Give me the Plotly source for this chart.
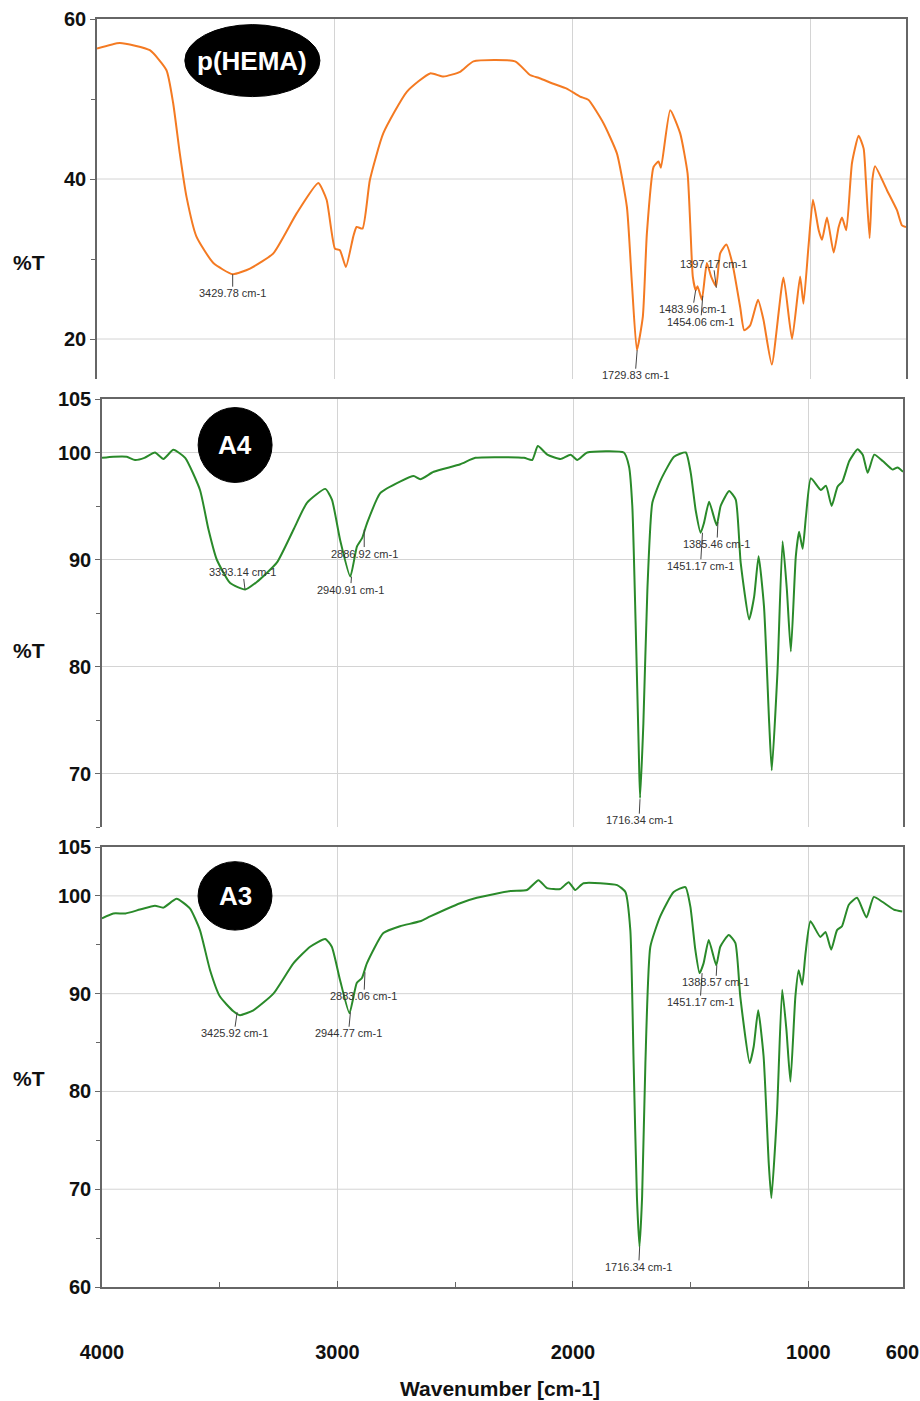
import plotly.graph_objects as go

# ---------------- data ----------------
phema_wn = [4000, 3904, 3778, 3708, 3680, 3652, 3624, 3582, 3511, 3430, 3357, 3259, 3161, 3070,
            3035, 3000, 2979, 2954, 2923, 2909, 2884, 2853, 2797, 2698, 2600, 2544, 2474, 2418,
            2243, 2180, 2140, 2082, 2026, 1970, 1935, 1872, 1815, 1773, 1752, 1731, 1706, 1689,
            1661, 1640, 1630, 1591, 1549, 1518, 1507, 1496, 1484, 1476, 1458, 1437, 1419, 1398,
            1381, 1355, 1330, 1297, 1280, 1255, 1222, 1199, 1164, 1115, 1079, 1045, 1031, 1010,
            991, 967, 953, 932, 904, 883, 869, 851, 827, 799, 778, 769, 753, 741, 730, 680,
            638, 617, 600]
phema_t = [56.3, 57.0, 56.1, 53.6, 49.5, 43.2, 37.8, 32.8, 29.5, 28.1, 28.8, 30.7, 35.7, 39.5,
           37.4, 31.3, 31.1, 29.0, 32.8, 34.0, 33.8, 39.9, 45.7, 50.9, 53.2, 52.8, 53.4, 54.7,
           54.7, 53.0, 52.6, 51.9, 51.3, 50.3, 49.9, 47.0, 43.2, 36.5, 27.0, 18.6, 22.8, 33.2,
           41.5, 42.2, 41.4, 48.6, 45.7, 40.7, 34.5, 27.8, 26.1, 26.6, 24.9, 29.5, 27.8, 26.6,
           30.7, 31.8, 29.5, 24.0, 21.1, 21.7, 24.9, 22.4, 16.8, 27.7, 20.0, 27.8, 24.4, 31.5,
           37.4, 33.6, 32.4, 35.2, 30.8, 34.0, 35.2, 33.6, 42.0, 45.4, 43.8, 40.0, 32.6, 40.0,
           41.6, 38.6, 36.1, 34.2, 34.0]

a4_wn = [4000, 3952, 3895, 3860, 3820, 3775, 3739, 3697, 3647, 3584, 3548, 3513, 3456, 3392,
         3343, 3258, 3187, 3130, 3052, 3024, 2989, 2946, 2918, 2896, 2875, 2819, 2733, 2677,
         2649, 2592, 2479, 2415, 2209, 2174, 2150, 2110, 2054, 2011, 1983, 1940, 1785, 1763,
         1749, 1735, 1721, 1716, 1702, 1685, 1664, 1629, 1572, 1522, 1501, 1480, 1459, 1445,
         1423, 1391, 1374, 1338, 1310, 1289, 1253, 1232, 1213, 1190, 1168, 1157, 1133, 1111,
         1093, 1076, 1055, 1041, 1026, 1012, 991, 949, 927, 903, 878, 857, 828, 793, 771,
         750, 722, 686, 644, 623, 600]
a4_t = [99.5, 99.6, 99.6, 99.3, 99.5, 100.0, 99.4, 100.25, 99.5, 96.5, 92.8, 90.0, 87.8, 87.2,
        87.9, 89.7, 92.8, 95.3, 96.6, 95.6, 91.8, 88.4, 91.2, 92.0, 93.4, 96.2, 97.3, 97.8,
        97.5, 98.2, 98.9, 99.5, 99.5, 99.3, 100.6, 99.8, 99.4, 99.8, 99.3, 100.0, 100.0, 98.7,
        95.0, 84.1, 71.6, 67.7, 74.7, 87.2, 95.3, 97.4, 99.6, 100.0, 98.1, 94.6, 92.5, 93.4,
        95.4, 93.2, 95.0, 96.4, 95.6, 89.7, 84.4, 86.5, 90.3, 85.6, 74.7, 70.3, 79.4, 91.7,
        87.2, 81.4, 90.3, 92.6, 91.0, 94.0, 97.6, 96.5, 96.9, 95.0, 96.8, 97.3, 99.2, 100.3, 99.8,
        98.1, 99.8, 99.2, 98.4, 98.6, 98.2]

a3_wn = [4000, 3952, 3900, 3839, 3775, 3739, 3683, 3626, 3584, 3541, 3499, 3442, 3414, 3357,
         3272, 3187, 3116, 3052, 3024, 2989, 2949, 2918, 2896, 2875, 2805, 2734, 2649, 2606,
         2479, 2408, 2266, 2195, 2146, 2110, 2054, 2018, 1990, 1955, 1812, 1777, 1756, 1742,
         1728, 1717, 1706, 1692, 1671, 1629, 1572, 1522, 1501, 1480, 1462, 1445, 1423, 1391,
         1374, 1338, 1310, 1289, 1249, 1232, 1213, 1190, 1168, 1157, 1133, 1111, 1093, 1076,
         1055, 1041, 1026, 1012, 991, 949, 927, 903, 878, 857, 828, 793, 753, 722, 686, 637, 600]
a3_t = [97.7, 98.2, 98.2, 98.6, 99.0, 98.8, 99.7, 98.7, 96.5, 92.4, 89.7, 88.2, 87.8, 88.3,
        90.0, 93.1, 94.8, 95.6, 94.8, 91.4, 88.0, 91.1, 91.6, 93.1, 96.2, 96.9, 97.4, 97.9,
        99.25, 99.8, 100.5, 100.6, 101.6, 100.8, 100.7, 101.4, 100.6, 101.3, 101.1, 100.4, 96.5, 82.9,
        69.2, 64.1, 69.2, 82.9, 94.8, 97.9, 100.4, 100.9, 98.9, 94.5, 92.1, 93.1, 95.5, 92.9,
        94.8, 96.0, 95.2, 89.7, 82.9, 84.6, 88.3, 83.6, 72.6, 69.1, 77.8, 90.4, 86.3, 81.0,
        89.7, 92.4, 90.9, 94.1, 97.4, 95.8, 96.3, 94.5, 96.5, 96.9, 99.1, 99.8, 97.8, 99.9,
        99.4, 98.6, 98.4]

# peak labels: wavenumber, %T at the marker, label offsets (px)
phema_pk_wn = [3429.78, 1729.83, 1483.96, 1454.06, 1397.17]
phema_pk_t = [28.1, 18.6, 26.1, 25.4, 26.4]
phema_pk_dx = [0, -2, -3, -2, -3]
phema_pk_dy = [19, 25, 19, 26, -24]

a4_pk_wn = [3393.14, 2940.91, 2886.92, 1716.34, 1451.17, 1385.46]
a4_pk_t = [87.2, 88.4, 92.8, 67.6, 92.5, 93.5]
a4_pk_dx = [-2, -1, 0, -1, -2, -1]
a4_pk_dy = [-17, 13, 24, 21, 33, 22]

a3_pk_wn = [3425.92, 2944.77, 2883.06, 1716.34, 1451.17, 1388.57]
a3_pk_t = [88.1, 88.1, 92.2, 64.1, 92.1, 92.9]
a3_pk_dx = [-3, -2, -1, -1, -2, -1]
a3_pk_dy = [21, 21, 24, 20, 29, 17]

# ---------------- figure ----------------
W, H = 920, 1401
fig = go.Figure()

ORANGE = "#F47A22"
GREEN = "#2A8A2A"
FONT = "Liberation Sans, Arial, sans-serif"

line_kw = dict(width=2, shape="spline", smoothing=0.5)
fig.add_trace(go.Scatter(x=phema_wn, y=phema_t, mode="lines", line=dict(color=ORANGE, **line_kw),
                         xaxis="x", yaxis="y", showlegend=False))
fig.add_trace(go.Scatter(x=a4_wn, y=a4_t, mode="lines", line=dict(color=GREEN, **line_kw),
                         xaxis="x2", yaxis="y2", showlegend=False))
fig.add_trace(go.Scatter(x=a3_wn, y=a3_t, mode="lines", line=dict(color=GREEN, **line_kw),
                         xaxis="x3", yaxis="y3", showlegend=False))

def px_x(p):
    return p / W

def px_y(p):
    return 1 - p / H

GRID = "#d4d4d4"
FRAME = "#666666"
tickfont = dict(family=FONT, size=20, color="#111", weight="bold")

def xaxis_top(left, right, anchor):
    return dict(domain=[px_x(left), px_x(right)], range=[4000, 600], anchor=anchor,
                side="top", showline=True, linecolor=FRAME, linewidth=1.5, mirror=False,
                ticks="", showticklabels=False, tickvals=[3000, 2000, 1000], automargin=False,
                showgrid=True, gridcolor=GRID, gridwidth=1, zeroline=False)

def yaxis(top, bottom, rng, labels, minor_vals, anchor):
    return dict(domain=[px_y(bottom), px_y(top)], range=rng, anchor=anchor, automargin=False,
                showline=True, linecolor=FRAME, linewidth=1.5, mirror=True,
                ticks="outside", ticklen=5, tickcolor=FRAME, tickwidth=1,
                tickvals=labels, ticktext=[str(v) for v in labels], tickfont=tickfont,
                showgrid=False, zeroline=False,
                minor=dict(tickvals=minor_vals, ticks="outside", ticklen=4, tickcolor=FRAME,
                           showgrid=False))

layout = dict(
    width=W, height=H, margin=dict(l=0, r=0, t=0, b=0, autoexpand=False),
    paper_bgcolor="white", plot_bgcolor="white", showlegend=False,
    xaxis=xaxis_top(97, 906, "y"),
    yaxis=yaxis(19, 379, [15, 60], [60, 40, 20], [50, 30], "x"),
    xaxis2=xaxis_top(102, 903, "y2"),
    yaxis2=yaxis(399, 827, [65, 105], [105, 100, 90, 80, 70], [95, 85, 75, 65], "x2"),
    xaxis3=dict(domain=[px_x(102), px_x(902.5)], range=[4000, 600], anchor="y3", automargin=False,
                showline=True, linecolor=FRAME, linewidth=1.5, mirror=True,
                ticks="inside", ticklen=6, tickcolor=FRAME,
                tickvals=[4000, 3000, 2000, 1000, 600], ticktext=["4000", "3000", "2000", "1000", "600"],
                tickfont=tickfont, ticklabelstandoff=46,
                showgrid=True, gridcolor=GRID, zeroline=False,
                minor=dict(tickvals=[3500, 2500, 1500], ticks="inside", ticklen=5,
                           tickcolor=FRAME, showgrid=False)),
    yaxis3=yaxis(847, 1287, [60, 105], [105, 100, 90, 80, 70, 60], [95, 85, 75, 65], "x3"),
)
fig.update_layout(**layout)

# horizontal gridlines (major values only, not frame values)
grid_rows = [("y", "x", [40, 20]), ("y2", "x2", [100, 90, 80, 70]), ("y3", "x3", [100, 90, 80, 70])]
shapes = []
for yref, xref, vals in grid_rows:
    for v in vals:
        shapes.append(dict(type="line", xref=f"{xref} domain", yref=yref, x0=0, x1=1, y0=v, y1=v,
                           line=dict(color=GRID, width=1), layer="below"))

# badges
badges = [("x", "y", 3631, 3063, 59.3, 50.3, "p(HEMA)"),
          ("x2", "y2", 3592, 3278, 104.2, 97.2, "A4"),
          ("x3", "y3", 3592, 3278, 103.5, 96.5, "A3")]
annotations = []
for xr, yr, x0, x1, y0, y1, txt in badges:
    shapes.append(dict(type="circle", xref=xr, yref=yr, x0=x0, x1=x1, y0=y0, y1=y1,
                       fillcolor="black", line=dict(color="black", width=1), layer="above"))
    annotations.append(dict(x=(x0 + x1) / 2, y=(y0 + y1) / 2, xref=xr, yref=yr, text=txt,
                            xanchor="center", yanchor="middle", showarrow=False,
                            font=dict(family=FONT, size=26, color="white", weight="bold")))

# peak labels
peak_sets = [("x", "y", phema_pk_wn, phema_pk_t, phema_pk_dx, phema_pk_dy),
             ("x2", "y2", a4_pk_wn, a4_pk_t, a4_pk_dx, a4_pk_dy),
             ("x3", "y3", a3_pk_wn, a3_pk_t, a3_pk_dx, a3_pk_dy)]
for xr, yr, wns, ts, dxs, dys in peak_sets:
    for wn, t, dx, dy in zip(wns, ts, dxs, dys):
        annotations.append(dict(x=wn, y=t, xref=xr, yref=yr, text=f"{wn:.2f} cm-1",
                                showarrow=True, arrowhead=0, arrowwidth=1, arrowcolor="#444",
                                ax=dx, ay=dy, standoff=0, borderpad=0,
                                font=dict(family=FONT, size=11, color="#333")))

# axis titles
for ypix in [263, 650, 1078]:
    annotations.append(dict(x=px_x(29), y=px_y(ypix), xref="paper", yref="paper", text="%T",
                            xanchor="center", yanchor="middle", showarrow=False,
                            font=dict(family=FONT, size=21, color="#111", weight="bold")))
annotations.append(dict(x=px_x(500), y=px_y(1388), xref="paper", yref="paper",
                        text="Wavenumber [cm-1]", xanchor="center", yanchor="middle", showarrow=False,
                        font=dict(family=FONT, size=21, color="#111", weight="bold")))

fig.update_layout(shapes=shapes, annotations=annotations)
fig.write_html("out.html", config={"displayModeBar": False},
               post_script="document.body.style.margin='0';document.body.style.overflow='hidden';")
